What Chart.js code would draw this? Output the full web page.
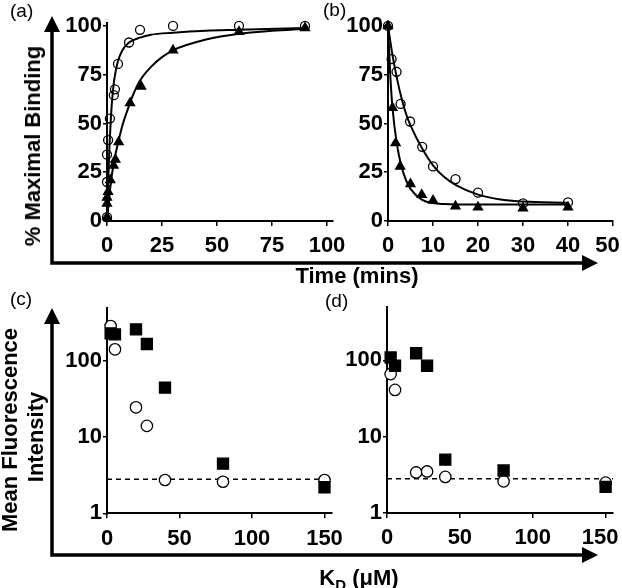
<!DOCTYPE html>
<html>
<head>
<meta charset="utf-8">
<script src="https://cdn.jsdelivr.net/npm/chart.js@4/dist/chart.umd.min.js"></script>
<style>
  body { margin: 0; background: #fff; }
  #wrap { position: relative; width: 622px; height: 588px; font-family: "Liberation Sans", Arial, sans-serif; color: #000; }
  canvas { position: absolute; left: 0; top: 0; }
  .lbl { position: absolute; white-space: nowrap; }
  .tag { font-size: 19px; line-height: 1; }
  .ttl { font-size: 22px; font-weight: bold; transform: translate(-50%, -50%); }
  .rot { transform: translate(-50%, -50%) rotate(-90deg); }
  sub { font-size: 15px; vertical-align: -0.3em; line-height: 0; }
</style>
</head>
<body>
<div id="wrap">
  <canvas id="chartA" width="622" height="588"></canvas>
  <canvas id="chartB" width="622" height="588"></canvas>
  <canvas id="chartC" width="622" height="588"></canvas>
  <canvas id="chartD" width="622" height="588"></canvas>

  <div class="lbl tag" style="left:10px;top:1px">(a)</div>
  <div class="lbl tag" style="left:323px;top:0px">(b)</div>
  <div class="lbl tag" style="left:10px;top:289px">(c)</div>
  <div class="lbl tag" style="left:325px;top:291px">(d)</div>

  <div class="lbl ttl rot" style="left:33px;top:146px">% Maximal Binding</div>
  <div class="lbl ttl" style="left:357px;top:276px">Time (mins)</div>
  <div class="lbl ttl rot" style="left:10px;top:430px">Mean Fluorescence</div>
  <div class="lbl ttl rot" style="left:36px;top:437px">Intensity</div>
  <div class="lbl ttl" style="left:359px;top:578px">K<sub>D</sub> (μM)</div>
</div>

<script>
// ---- data: (a) association, (b) dissociation, % maximal binding vs time (mins)
const aCircX = [0, 0, 0, 0.5, 1.3, 3.1, 3.6, 5, 10, 15, 30, 60, 90];
const aCircY = [2, 20, 34, 41.5, 52.5, 64.5, 67.5, 80.5, 91.5, 98, 100, 100, 100];
const aTriX = [0, 0, 0, 0.5, 1.5, 3, 3.8, 5.3, 10.5, 15.5, 30, 60, 90];
const aTriY = [2, 9, 12, 15, 21, 28.5, 31.5, 40.5, 60.5, 69, 87.5, 97, 99];
const aCircFitX = [0, 0.5, 1, 1.5, 2, 3, 4, 5, 7, 10, 15, 20, 30, 45, 60, 90];
const aCircFitY = [0, 18, 35, 47, 57, 70, 77, 82, 87.5, 91.5, 94, 95.5, 96.5, 97.5, 98, 99];
const aTriFitX = [0, 1, 2, 3, 4, 5, 7, 10, 12, 15, 20, 25, 30, 45, 60, 75, 90];
const aTriFitY = [0, 12, 22, 29, 35, 40, 49, 59, 65, 72, 79, 84, 87.5, 93, 96, 97.5, 98.5];

const bCircX = [0, 0.8, 1.9, 2.8, 4.9, 7.6, 10, 15, 20, 30, 40];
const bCircY = [100, 83, 76.5, 60, 51, 38, 28, 21.5, 14.5, 9, 9.5];
const bTriX = [0, 1, 1.7, 2.7, 5, 7.5, 10, 15, 20, 30, 40];
const bTriY = [100, 58, 40, 28, 19, 13.5, 10.5, 7.5, 7, 6.5, 7];
const bCircFitX = [0, 1, 2, 3, 4, 5, 7.5, 10, 12.5, 15, 20, 25, 30, 40];
const bCircFitY = [100, 85, 73, 63, 55, 49, 37.5, 28.5, 22.5, 18.5, 13.5, 11, 10, 9.3];
const bTriFitX = [0, 0.5, 1, 2, 3, 4, 5, 7.5, 10, 12.5, 15, 20, 30, 40];
const bTriFitY = [100, 75, 58, 39, 28, 21, 16.5, 11, 9.2, 8.7, 8.5, 8.5, 8.5, 8.5];

// ---- data: (c), (d) mean fluorescence intensity vs KD (uM)
const kdC = [2.5, 5.5, 20, 27.5, 40, 80, 150];
const cSquares = [232, 225, 262, 168, 45, 4.5, 2.2];
const cCircles = [290, 143, 24.7, 14.1, 2.74, 2.6, 2.74];
const kdD = [2.5, 5.5, 20, 27.5, 40, 80, 150];
const dSquares = [109, 85, 124, 85, 5.0, 3.6, 2.2];
const dCircles = [66, 41, 3.4, 3.5, 2.97, 2.6, 2.5];
const bgX = [0, 155];
const bgY = [2.8, 2.8];

// ---- tick values
const pctTicks = [0, 25, 50, 75, 100];
const timeTicksA = [0, 25, 50, 75, 100];
const timeTicksB = [0, 10, 20, 30, 40, 50];
const kdTicks = [0, 50, 100, 150];
const mfiTicks = [1, 10, 100];

const FONT = '"Liberation Sans", Arial, sans-serif';

function pts(xs, ys) {
  return xs.map((x, i) => ({ x: x, y: ys[i] }));
}

function marks(xs, ys, style, r, fill) {
  return {
    data: pts(xs, ys), showLine: false, clip: false,
    pointStyle: style, pointRadius: r, pointBorderWidth: 1.3,
    pointBorderColor: '#000', pointBackgroundColor: fill
  };
}

function curve(xs, ys, dash) {
  return {
    data: pts(xs, ys), showLine: true, clip: false,
    borderColor: '#000', borderWidth: dash ? 1.5 : 2, borderDash: dash || [],
    pointRadius: 0, cubicInterpolationMode: 'monotone', fill: false
  };
}

// pullLast: nudge the last tick label left so it stays inside the page (like the original)
function axis(type, pos, min, max, list, pullLast) {
  const left = pos === 'left';
  return {
    type: type, position: pos, min: min, max: max,
    afterBuildTicks: s => { s.ticks = list.map(v => ({ value: v })); },
    afterFit: s => {
      if (left) s.width = 60; else s.height = 40;
      s.paddingLeft = s.paddingRight = s.paddingTop = s.paddingBottom = 0;
    },
    grid: { display: true, drawOnChartArea: false, drawTicks: true, tickLength: left ? 4 : 5, color: '#000', lineWidth: 1.5 },
    border: { display: true, color: '#000', width: 2 },
    ticks: {
      color: '#000', padding: left ? 1 : 7, autoSkip: false, maxRotation: 0,
      font: { family: FONT, size: 22, weight: 'bold' },
      callback: (v, i, t) => (pullLast && i === t.length - 1) ? v + '\u2002' : String(v)
    }
  };
}

// big L-shaped axis arrows around the panels
const arrowPlugin = {
  id: 'arrows',
  afterDraw(chart) {
    const c = chart.ctx;
    c.save();
    c.strokeStyle = '#000';
    c.fillStyle = '#000';
    c.lineWidth = 3.5;
    c.lineJoin = 'miter';
    [[16, 263], [308, 555]].forEach(([tip, base]) => {
      c.beginPath();
      c.moveTo(52, tip + 14);
      c.lineTo(52, base);
      c.lineTo(584, base);
      c.stroke();
      c.beginPath();
      c.moveTo(52, tip);
      c.lineTo(44, tip + 16);
      c.lineTo(60, tip + 16);
      c.closePath();
      c.fill();
      c.beginPath();
      c.moveTo(598, base);
      c.lineTo(582, base - 8);
      c.lineTo(582, base + 8);
      c.closePath();
      c.fill();
    });
    c.restore();
  }
};

function panel(id, datasets, pad, xAxis, yAxis, plugins) {
  return new Chart(document.getElementById(id), {
    type: 'scatter',
    data: { datasets: datasets },
    options: {
      responsive: false, animation: false, events: [], devicePixelRatio: 1,
      layout: { padding: pad },
      plugins: { legend: { display: false }, tooltip: { enabled: false } },
      scales: { x: xAxis, y: yAxis }
    },
    plugins: plugins || []
  });
}

panel('chartA', [
  marks(aTriX, aTriY, 'triangle', 5.2, '#000'),
  marks(aCircX, aCircY, 'circle', 4.5, 'rgba(255,255,255,0)'),
  curve(aTriFitX, aTriFitY),
  curve(aCircFitX, aCircFitY)
], { left: 47, top: 23, right: 289.5, bottom: 327 },
  axis('linear', 'bottom', 0, 102.5, timeTicksA),
  axis('linear', 'left', 0, 101.5, pctTicks), [arrowPlugin]);

panel('chartB', [
  marks(bTriX, bTriY, 'triangle', 5.2, '#000'),
  marks(bCircX, bCircY, 'circle', 4.5, 'rgba(255,255,255,0)'),
  curve(bTriFitX, bTriFitY),
  curve(bCircFitX, bCircFitY)
], { left: 328, top: 23, right: 9, bottom: 327 },
  axis('linear', 'bottom', 0, 50, timeTicksB, true),
  axis('linear', 'left', 0, 101.5, pctTicks));

panel('chartC', [
  marks(kdC, cSquares, 'rect', 7.8, '#000'),
  marks(kdC, cCircles, 'circle', 5.7, '#fff'),
  curve(bgX, bgY, [5, 4])
], { left: 47, top: 308, right: 290.25, bottom: 34.7 },
  axis('linear', 'bottom', 0, 155, kdTicks),
  axis('logarithmic', 'left', 1, 500, mfiTicks));

panel('chartD', [
  marks(kdD, dSquares, 'rect', 7.8, '#000'),
  marks(kdD, dCircles, 'circle', 5.7, '#fff'),
  curve(bgX, bgY, [5, 4])
], { left: 327, top: 307, right: 5.3, bottom: 35 },
  axis('linear', 'bottom', 0, 155, kdTicks, true),
  axis('logarithmic', 'left', 1, 500, mfiTicks));
</script>
</body>
</html>
